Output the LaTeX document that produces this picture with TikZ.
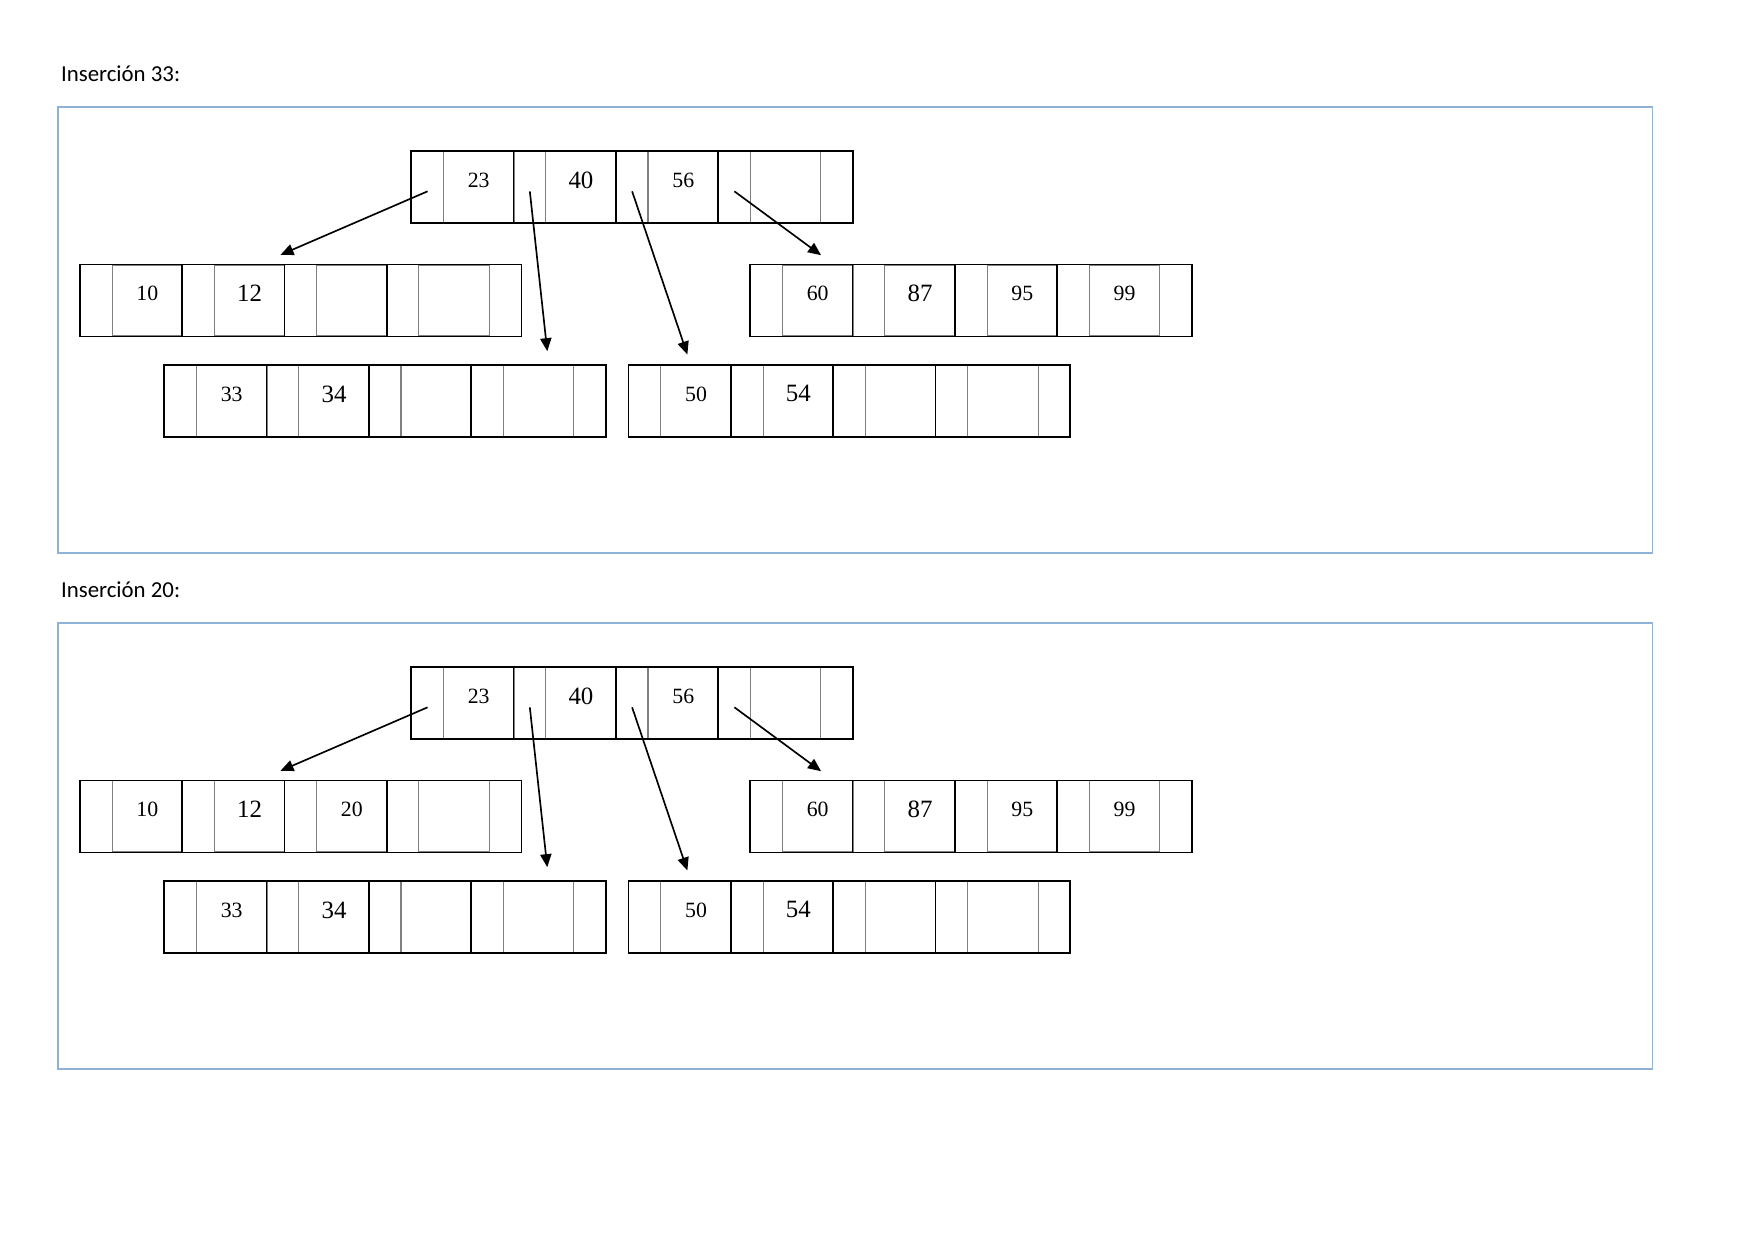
\documentclass[tikz,border=0pt]{standalone}
\usepackage{fontspec}
\setmainfont{Liberation Serif}
\newfontfamily\titulo{Carlito}
\usetikzlibrary{arrows.meta}

\definecolor{marco}{RGB}{145,178,216}
\newcommand{\gr}{\fontsize{12}{14}\selectfont}

\tikzset{
  ptrcell/.style={minimum width=0.537cm, minimum height=1.202cm, inner sep=0pt},
  keycell/.style={draw=gray, line width=0.5pt, minimum width=1.195cm,
    minimum height=1.202cm, inner sep=0pt},
  keytext/.style={inner sep=0pt, font=\fontsize{10.5}{12}\selectfont},
  borde/.style={line width=0.8pt},
  rotulo/.style={inner sep=0pt, anchor=base west, font=\titulo\fontsize{11}{13}\selectfont},
  flecha/.style={line width=0.8pt, -{Triangle[length=0.22cm,width=0.19cm]}},
}

% node of the tree: name, left-centre point, four keys
\newcommand{\bnodo}[6]{%
  \begin{scope}[shift={#2}]
    \foreach \k/\i in {#3/1,#4/2,#5/3,#6/4} {
      \node[ptrcell] (#1p\i) at ({1.732*(\i-1)+0.2685},0) {};
      \node[keycell] (#1k\i) at ({1.732*(\i-1)+1.1345},0) {};
      \node[keytext] (#1t\i) at ([yshift=0.12cm]#1k\i.center) {\k};
    }
    \node[ptrcell] (#1p5) at (7.1965,0) {};
    \draw[borde] (#1p1.north west) rectangle (#1p5.south east);
    \foreach \i in {2,3,4}
      \draw[borde] (#1p\i.north west) -- (#1p\i.south west);
  \end{scope}}

\begin{document}
\begin{tikzpicture}
  \useasboundingbox (0,0) rectangle (29.7,21);
  % one frame per insertion
  \foreach \f/\n/\dy/\c in {a/33/0/,b/20/-8.737/20} {
    \begin{scope}[yshift=\dy cm]
      \node[rotulo] (\f tit) at (1.028,19.617) {Inserción \n:};
      \draw[marco, line width=0.8pt] (0.987,19.183) rectangle (27.98,11.631);
      % root
      \bnodo{\f r}{(6.971,17.830)}{23}{\gr 40}{56}{}
      % children
      \bnodo{\f i}{(1.360,15.912)}{10}{\gr 12}{\c}{}
      \bnodo{\f d}{(12.712,15.912)}{60}{\gr 87}{95}{99}
      \bnodo{\f m}{(2.789,14.210)}{33}{\gr 34}{}{}
      \bnodo{\f n}{(10.651,14.210)}{50}{\gr 54}{}{}
      % arrow ends
      \coordinate (\f e1) at ([xshift=-0.083cm,yshift=0.163cm]\f ik2.north east);
      \coordinate (\f e2) at ([xshift=0.147cm,yshift=0.234cm]\f mk4.north);
      \coordinate (\f e3) at ([xshift=-0.147cm,yshift=0.178cm]\f nk1.north);
      \coordinate (\f e4) at ([xshift=0.056cm,yshift=0.157cm]\f dk1.north);
      \foreach \i in {1,...,4}
        \draw[flecha] ([yshift=-0.07cm]\f rp\i.center) -- (\f e\i);
    \end{scope}
  }
\end{tikzpicture}
\end{document}
